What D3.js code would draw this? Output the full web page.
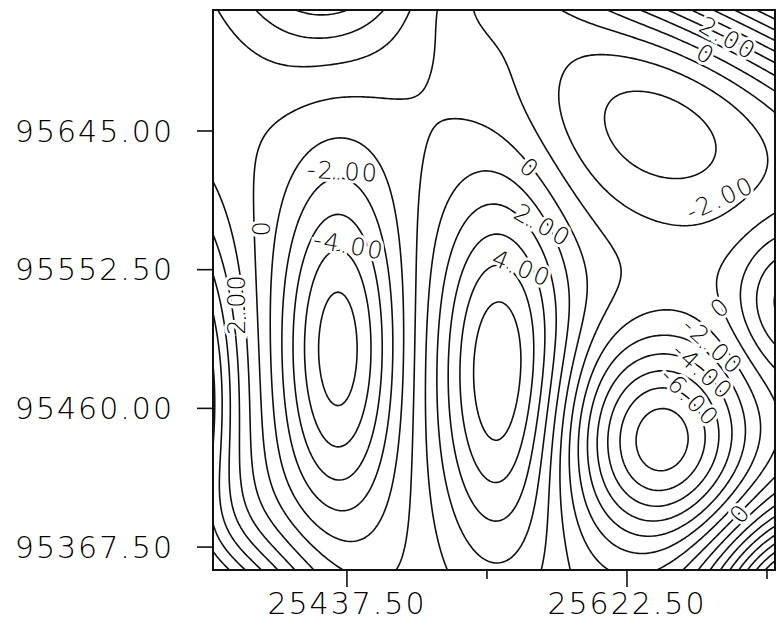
<!DOCTYPE html>
<html>
<head>
<meta charset="utf-8">
<script src="https://cdn.jsdelivr.net/npm/d3@7"></script>
<style>
body { margin: 0; background: #fff; }
.contour { fill: none; stroke: #111; stroke-width: 1.6; }
.frame { fill: none; stroke: #111; stroke-width: 2; }
.tick-label { font-family: "DejaVu Sans"; font-weight: 200; font-size: 30px; letter-spacing: 2px; fill: #000; }
.contour-label { font-family: "DejaVu Sans"; font-weight: 200; font-size: 24px; letter-spacing: 2px; fill: #000;
  stroke: #fff; stroke-width: 6px; paint-order: stroke; }
</style>
</head>
<body>
<div id="contour"></div>
<script>

// highs and lows of the surface (map units)
var peakX       = [25431.6, 25538.6, 25645.7, 25644.2, 25731.5, 25750.0, 25340.4, 25307.4, 25423.0, 25730.0, 25538.6];
var peakY       = [95499.5, 95482.3, 95438.2, 95645.7, 95749.7, 95318.9, 95298.8, 95465.6, 95812.4, 95532.3, 95745.7];
var peakValue   = [-5.6, 6.0, -7.7, -3.5, 9, 15, 10, 12, 8, 3, -1.5];
var peakSpreadX = [27.8, 30.5, 42, 76, 264, 46, 53, 32.5, 45, 23, 40];
var peakSpreadY = [81, 86, 50, 53, 40, 46, 46.6, 80, 66, 33, 27];
var peakAngle   = [0, 0, 0, -25, -25, 0, 0, 0, 0, 0, 0];

// contour levels
var levels = d3.range(-12, 17, 1);

// axis ticks
var xTicks = [25437.5, 25530, 25622.5, 25715];
var xTickLabels = ["25437.50", "", "25622.50", ""];
var yTicks = [95367.5, 95460, 95552.5, 95645];
var yTickLabels = ["95367.50", "95460.00", "95552.50", "95645.00"];

// contour labels
var labelText  = ["-2.00", "-4.00", "0", "2.00", "0", "2.00", "4.00", "-2.00", "2.00", "0", "0", "-2.00", "-4.00", "-6.00", "0"];
var labelX     = [25434.9, 25438.9, 25380.7, 25364.2, 25558.4, 25567.0, 25553.2, 25684.0, 25689.3, 25674.7, 25684.0, 25679.4, 25672.7, 25664.2, 25697.2];
var labelY     = [95618.3, 95569.0, 95579.0, 95529.6, 95620.3, 95582.3, 95553.6, 95600.3, 95707.0, 95696.3, 95527.6, 95501.6, 95484.9, 95467.6, 95390.2];
var labelAngle = [3, 10, 90, -90, 40, 30, 22, -25, 30, 30, -40, 42, 42, 45, -50];


var width = 778, height = 634;
var plot = {left: 213, right: 775, top: 10, bottom: 570};

var svg = d3.select("#contour")
  .append("svg")
  .attr("width", width)
  .attr("height", height);

var x = d3.scaleLinear().domain([25349, 25720.3]).range([plot.left, plot.right]);
var y = d3.scaleLinear().domain([95352.2, 95725.7]).range([plot.bottom, plot.top]);

// sample the surface on a grid
var nx = 240, ny = 240;
var gx = d3.scaleLinear().domain([0, nx - 1]).range(x.domain());
var gy = d3.scaleLinear().domain([0, ny - 1]).range([y.domain()[1], y.domain()[0]]);

function surface(px, py) {
  var v = 0;
  for (var k = 0; k < peakValue.length; k++) {
    var a = peakAngle[k] * Math.PI / 180;
    var dx = px - peakX[k], dy = py - peakY[k];
    var u = (dx * Math.cos(a) + dy * Math.sin(a)) / peakSpreadX[k];
    var w = (-dx * Math.sin(a) + dy * Math.cos(a)) / peakSpreadY[k];
    v += peakValue[k] * Math.exp(-(u * u + w * w) / 2);
  }
  return v;
}

var values = new Array(nx * ny);
for (var j = 0; j < ny; j++) {
  for (var i = 0; i < nx; i++) {
    values[i + j * nx] = surface(gx(i), gy(j));
  }
}

var contours = d3.contours()
  .size([nx, ny])
  .thresholds(levels)(values);

// grid coords -> screen
var project = d3.geoTransform({
  point: function(a, b) {
    this.stream.point(x(gx(a - 0.5)), y(gy(b - 0.5)));
  }
});
var path = d3.geoPath(project);

svg.append("clipPath")
  .attr("id", "plot-clip")
  .append("rect")
  .attr("x", plot.left)
  .attr("y", plot.top)
  .attr("width", plot.right - plot.left)
  .attr("height", plot.bottom - plot.top);

svg.append("g")
  .attr("clip-path", "url(#plot-clip)")
  .selectAll("path")
  .data(contours)
  .enter().append("path")
  .attr("class", "contour")
  .attr("d", path);

// contour labels, white halo knocks out the line
svg.append("g")
  .selectAll("text")
  .data(labelText)
  .enter().append("text")
  .attr("class", "contour-label")
  .attr("text-anchor", "middle")
  .attr("dy", "0.36em")
  .attr("transform", function(d, i) {
    return "translate(" + x(labelX[i]) + "," + y(labelY[i]) + ") rotate(" + labelAngle[i] + ")";
  })
  .text(function(d) { return d; });

// frame
svg.append("rect")
  .attr("class", "frame")
  .attr("x", plot.left)
  .attr("y", plot.top)
  .attr("width", plot.right - plot.left)
  .attr("height", plot.bottom - plot.top);

// x axis
var xAxis = svg.append("g");
xAxis.selectAll("line")
  .data(xTicks)
  .enter().append("line")
  .attr("x1", function(d) { return x(d); })
  .attr("x2", function(d) { return x(d); })
  .attr("y1", plot.bottom)
  .attr("y2", function(d, i) { return plot.bottom + (xTickLabels[i] ? 17 : 9); })
  .attr("stroke", "#111")
  .attr("stroke-width", 1.6);
xAxis.selectAll("text")
  .data(xTicks)
  .enter().append("text")
  .attr("class", "tick-label")
  .attr("text-anchor", "middle")
  .attr("x", function(d) { return x(d); })
  .attr("y", 614)
  .text(function(d, i) { return xTickLabels[i]; });

// y axis
var yAxis = svg.append("g");
yAxis.selectAll("line")
  .data(yTicks)
  .enter().append("line")
  .attr("x1", plot.left - 16)
  .attr("x2", plot.left)
  .attr("y1", function(d) { return y(d); })
  .attr("y2", function(d) { return y(d); })
  .attr("stroke", "#111")
  .attr("stroke-width", 1.6);
yAxis.selectAll("text")
  .data(yTicks)
  .enter().append("text")
  .attr("class", "tick-label")
  .attr("text-anchor", "end")
  .attr("x", 174)
  .attr("y", function(d) { return y(d); })
  .attr("dy", "0.36em")
  .text(function(d, i) { return yTickLabels[i]; });

</script>
</body>
</html>
